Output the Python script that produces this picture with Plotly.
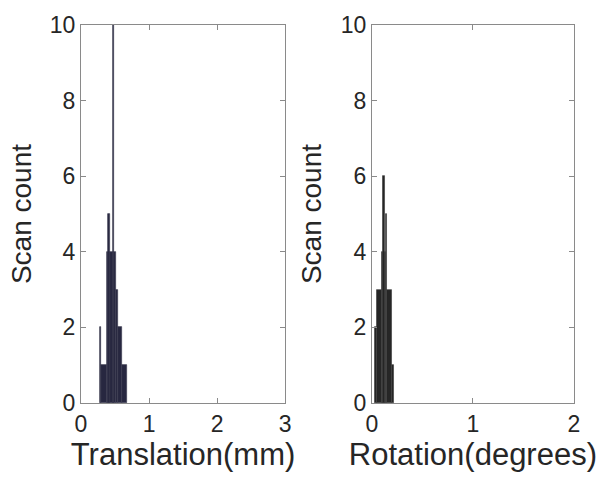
import plotly.graph_objects as go

# Left histogram: translation (mm) — bar left edge, right edge, count
trans_left = [0.30, 0.28, 0.38, 0.39, 0.51, 0.55, 0.60, 0.475]
trans_right = [0.38, 0.30, 0.51, 0.43, 0.55, 0.60, 0.68, 0.49]
trans_count = [1, 2, 4, 5, 3, 2, 1, 10]

# Right histogram: rotation (degrees)
rot_left = [0.03, 0.05, 0.10, 0.11, 0.135, 0.148, 0.20]
rot_right = [0.05, 0.10, 0.14, 0.125, 0.148, 0.20, 0.22]
rot_count = [2, 3, 4, 6, 5, 3, 1]

x_ticks_trans = [0, 1, 2, 3]
x_ticks_rot = [0, 1, 2]
y_ticks = [0, 2, 4, 6, 8, 10]

fig = go.Figure()

def add_bars(lefts, rights, counts, fill, edge, xa, ya):
    centers = [(l + r) / 2 for l, r in zip(lefts, rights)]
    widths = [r - l for l, r in zip(lefts, rights)]
    fig.add_trace(go.Bar(x=centers, y=counts, width=widths, base=0,
                         marker=dict(color=fill, line=dict(color=edge, width=0.7)),
                         xaxis=xa, yaxis=ya, showlegend=False))

add_bars(trans_left, trans_right, trans_count, "#272740", "#3c3c52", "x", "y")
add_bars(rot_left, rot_right, rot_count, "#262626", "#444444", "x2", "y2")

font_col = "#262626"
fam = "Liberation Sans, Arial"
axis_common = dict(showline=True, linecolor="#8a8a8a", linewidth=1, mirror="ticks",
                   ticks="inside", ticklen=5, tickcolor="#8a8a8a", showgrid=False,
                   zeroline=False, tickfont=dict(family=fam, size=23, color=font_col))
xt_font = dict(family=fam, size=31, color=font_col)
yt_font = dict(family=fam, size=28, color=font_col)

fig.update_layout(
    width=611, height=479,
    margin=dict(l=81, r=37, t=18, b=76),
    plot_bgcolor="white", paper_bgcolor="white",
    barmode="overlay", bargap=0,
    xaxis=dict(domain=[0, 0.414], range=[0, 3], tickvals=x_ticks_trans,
               title=dict(text="Translation(mm)", font=xt_font, standoff=4),
               **axis_common),
    yaxis=dict(range=[0, 10], tickvals=y_ticks,
               title=dict(text="Scan count", font=yt_font, standoff=10),
               **axis_common),
    xaxis2=dict(domain=[0.59, 1], range=[0, 2], tickvals=x_ticks_rot, anchor="y2",
                title=dict(text="Rotation(degrees)", font=xt_font, standoff=4),
                **axis_common),
    yaxis2=dict(range=[0, 10], tickvals=y_ticks, anchor="x2",
                title=dict(text="Scan count", font=yt_font, standoff=10),
                **axis_common),
)

fig.write_html("out.html")
